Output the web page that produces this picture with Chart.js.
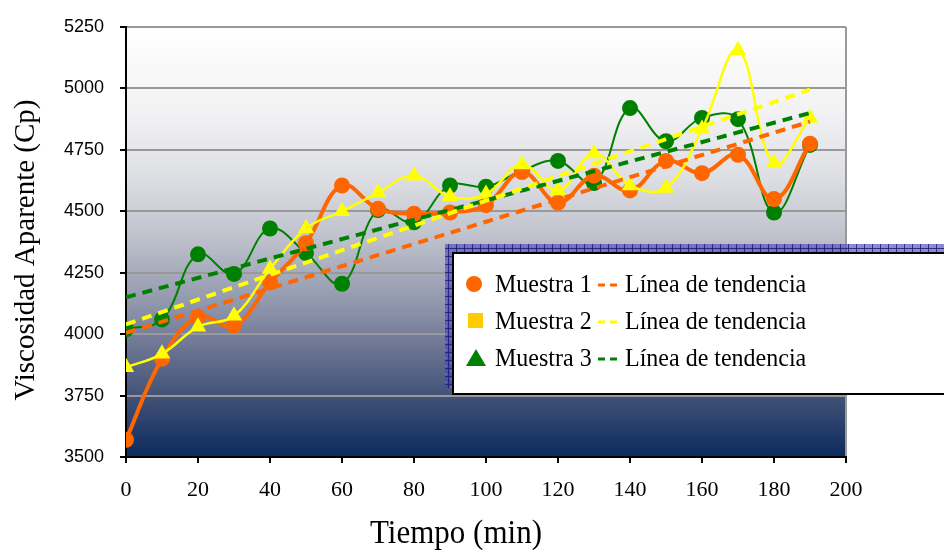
<!DOCTYPE html>
<html>
<head>
<meta charset="utf-8">
<script src="https://cdn.jsdelivr.net/npm/chart.js@4/dist/chart.umd.min.js"></script>
<style>
  html, body { margin: 0; padding: 0; background: #fff; }
  #wrap { width: 944px; height: 550px; }
</style>
</head>
<body>
<div id="wrap"><canvas id="chart" width="944" height="550"></canvas></div>
<script>
// Values
const tiempo = [0, 10, 20, 30, 40, 50, 60, 70, 80, 90, 100, 110, 120, 130, 140, 150, 160, 170, 180, 190]
const muestra1 = [3570, 3900, 4070, 4035, 4210, 4370, 4605, 4510, 4490, 4495, 4525, 4660, 4535, 4645, 4585, 4705, 4655, 4730, 4550, 4775]
const muestra2 = [3865, 3920, 4030, 4075, 4265, 4430, 4500, 4575, 4645, 4560, 4570, 4690, 4585, 4735, 4605, 4595, 4835, 5155, 4695, 4880]
const muestra3 = [4020, 4060, 4325, 4245, 4430, 4330, 4205, 4505, 4455, 4605, 4600, 4665, 4705, 4615, 4920, 4785, 4880, 4875, 4495, 4770]

// Trend lines (start and end of each dashed line)
const trendX = [0, 190]
const tendencia1 = [4005, 4865]
const tendencia2 = [4040, 4995]
const tendencia3 = [4150, 4900]

const yTicks = [3500, 3750, 4000, 4250, 4500, 4750, 5000, 5250]
const xTicks = [0, 20, 40, 60, 80, 100, 120, 140, 160, 180, 200]

const series = [
  { label: 'Muestra 1', data: muestra1, color: '#FF6600', width: 4, style: 'circle', radius: 8, order: 2 },
  { label: 'Muestra 2', data: muestra2, color: '#FFFF00', width: 2.5, style: 'triangle', radius: 9.5, order: 1 },
  { label: 'Muestra 3', data: muestra3, color: '#008000', width: 2, style: 'circle', radius: 8, order: 3 }
]
const trends = [tendencia1, tendencia2, tendencia3]

const toPoints = (xs, ys) => xs.map((x, i) => ({ x, y: ys[i] }))

const datasets = series.map(s => ({
  label: s.label,
  data: toPoints(tiempo, s.data),
  borderColor: s.color,
  backgroundColor: s.color,
  borderWidth: s.width,
  pointStyle: s.style,
  pointRadius: s.radius,
  pointBorderWidth: 0,
  tension: 0.4,
  order: s.order
}))

trends.forEach((t, i) => {
  datasets.push({
    label: 'Línea de tendencia',
    data: toPoints(trendX, t),
    borderColor: series[i].color,
    borderWidth: 4,
    borderDash: [10, 7],
    pointRadius: 0,
    tension: 0,
    order: 0
  })
})

// Plot area fill: white at the top fading to dark navy at the bottom
const backgroundPlugin = {
  id: 'plotBackground',
  beforeDraw(chart) {
    const { ctx, chartArea: a } = chart
    const g = ctx.createLinearGradient(0, a.top, 0, a.bottom)
    g.addColorStop(0, '#ffffff')
    g.addColorStop(0.2, '#f2f2f4')
    g.addColorStop(0.36, '#dcdde2')
    g.addColorStop(0.5, '#bcbfca')
    g.addColorStop(0.64, '#9298ad')
    g.addColorStop(0.78, '#5f6a8a')
    g.addColorStop(0.9, '#33466f')
    g.addColorStop(1, '#0a2b5e')
    ctx.save()
    ctx.fillStyle = g
    ctx.fillRect(a.left, a.top, a.right - a.left, a.bottom - a.top)
    ctx.restore()
  }
}

// Stretched text helper (the reference text is slightly taller than wide)
function drawText(ctx, text, x, y, font, sy, align) {
  ctx.save()
  ctx.translate(x, y)
  ctx.scale(1, sy)
  ctx.font = font
  ctx.textAlign = align || 'left'
  ctx.textBaseline = 'alphabetic'
  ctx.fillStyle = '#000'
  ctx.fillText(text, 0, 0)
  ctx.restore()
}

function makeHatch(ctx) {
  const p = document.createElement('canvas')
  p.width = 8
  p.height = 8
  const c = p.getContext('2d')
  c.fillStyle = 'rgba(70, 70, 180, 0.62)'
  c.fillRect(0, 0, 8, 8)
  c.fillStyle = 'rgba(130, 130, 220, 0.5)'
  c.fillRect(2, 2, 2, 2)
  c.fillRect(5, 5, 2, 2)
  c.fillStyle = 'rgba(25, 25, 120, 0.8)'
  c.fillRect(0, 0, 8, 1)
  c.fillRect(0, 0, 1, 8)
  return ctx.createPattern(p, 'repeat')
}

const overlayPlugin = {
  id: 'overlay',
  afterDraw(chart) {
    const ctx = chart.ctx

    // Axis titles
    ctx.save()
    ctx.translate(34, 250)
    ctx.rotate(-Math.PI / 2)
    ctx.font = '29px "Liberation Serif", "Times New Roman", serif'
    ctx.textAlign = 'center'
    ctx.fillStyle = '#000'
    ctx.fillText('Viscosidad Aparente (Cp)', 0, 0)
    ctx.restore()
    drawText(ctx, 'Tiempo (min)', 456, 543, '31px "Liberation Serif", "Times New Roman", serif', 1.12, 'center')

    // Legend shadow and box
    ctx.save()
    ctx.fillStyle = makeHatch(ctx)
    ctx.fillRect(445, 244, 520, 144)
    ctx.fillStyle = '#fff'
    ctx.fillRect(452, 252, 520, 143)
    ctx.strokeStyle = '#000'
    ctx.lineWidth = 2
    ctx.strokeRect(453, 253, 520, 141)
    ctx.restore()

    const font = '24px "Liberation Serif", "Times New Roman", serif'
    const rows = [284, 321, 358]
    const markerColors = ['#FF6600', '#FFCC00', '#008000']
    rows.forEach((cy, i) => {
      ctx.save()
      ctx.fillStyle = markerColors[i]
      if (i === 0) {
        ctx.beginPath()
        ctx.arc(474, cy, 8, 0, Math.PI * 2)
        ctx.fill()
      } else if (i === 1) {
        ctx.fillRect(468, cy - 8, 15, 15)
      } else {
        ctx.beginPath()
        ctx.moveTo(476, cy - 9)
        ctx.lineTo(486, cy + 8)
        ctx.lineTo(466, cy + 8)
        ctx.closePath()
        ctx.fill()
      }
      // short dashed sample of the trend line
      ctx.strokeStyle = series[i].color
      ctx.lineWidth = 3
      ctx.setLineDash([7, 5])
      ctx.beginPath()
      ctx.moveTo(598, cy + 1)
      ctx.lineTo(617, cy + 1)
      ctx.stroke()
      ctx.restore()
      drawText(ctx, series[i].label, 495, cy + 8, font, 1.08)
      drawText(ctx, 'Línea de tendencia', 625, cy + 8, font, 1.08)
    })
  }
}

new Chart(document.getElementById('chart'), {
  type: 'line',
  data: { datasets },
  plugins: [backgroundPlugin, overlayPlugin],
  options: {
    responsive: false,
    animation: false,
    layout: { padding: { top: 27, right: 98, left: 0, bottom: 0 } },
    plugins: {
      legend: { display: false },
      tooltip: { enabled: false }
    },
    scales: {
      x: {
        type: 'linear',
        min: 0,
        max: 200,
        afterBuildTicks: (scale) => { scale.ticks = xTicks.map(v => ({ value: v })) },
        afterFit: (scale) => { scale.height = 93 },
        border: { color: '#000', width: 2 },
        grid: {
          drawOnChartArea: true,
          color: (c) => (c.tick && c.tick.value === 200 ? '#9a9a9a' : 'rgba(0,0,0,0)'),
          lineWidth: 2,
          tickColor: '#000',
          tickLength: 6
        },
        ticks: {
          color: '#000',
          padding: 14,
          maxRotation: 0,
          callback: (v) => String(v),
          font: { family: '"Liberation Serif", "Times New Roman", serif', size: 22 }
        }
      },
      y: {
        type: 'linear',
        min: 3500,
        max: 5250,
        afterBuildTicks: (scale) => { scale.ticks = yTicks.map(v => ({ value: v })) },
        afterFit: (scale) => { scale.width = 126 },
        border: { color: '#000', width: 2 },
        grid: {
          color: '#999999',
          lineWidth: 2,
          tickColor: '#000',
          tickLength: 6
        },
        ticks: {
          color: '#000',
          padding: 16,
          callback: (v) => String(v),
          font: { family: '"Liberation Sans", Arial, sans-serif', size: 18 }
        }
      }
    }
  }
})
</script>
</body>
</html>
